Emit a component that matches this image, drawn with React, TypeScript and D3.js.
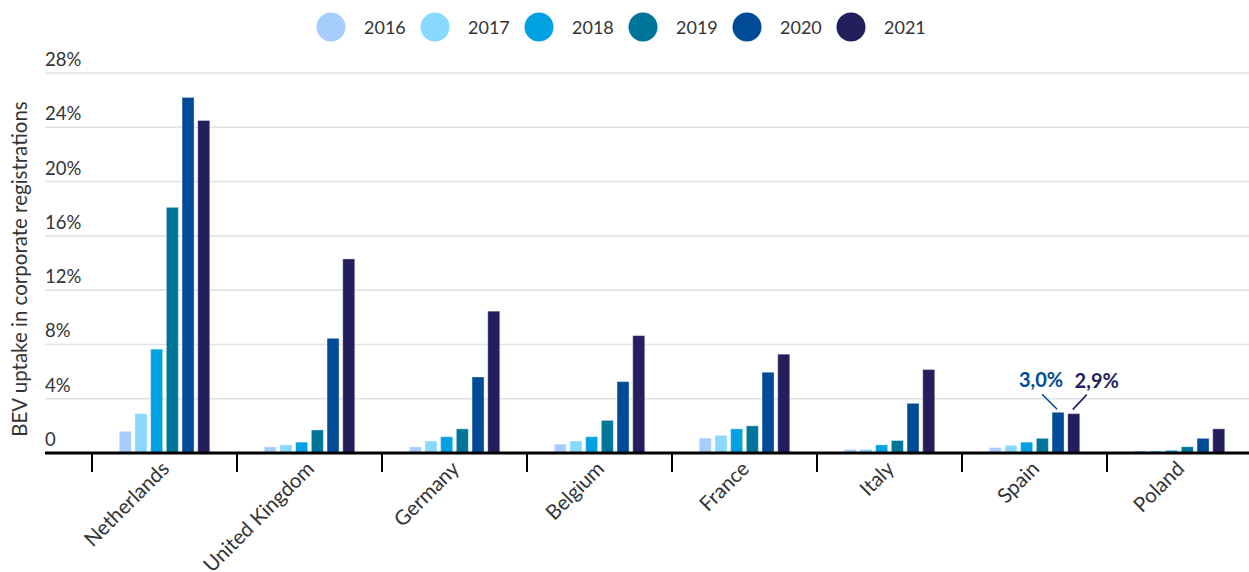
import React from "react";
import * as d3 from "d3";

const countries = ["Netherlands", "United Kingdom", "Germany", "Belgium", "France", "Italy", "Spain", "Poland"];
const years = ["2016", "2017", "2018", "2019", "2020", "2021"];
const colors = ["#a6cdfb", "#89d8fe", "#00a1e2", "#00759a", "#004b98", "#231f5c"];

const v2016 = [1.6, 0.45, 0.45, 0.65, 1.1, 0.27, 0.4, 0.17];
const v2017 = [2.9, 0.6, 0.88, 0.88, 1.3, 0.27, 0.57, 0.17];
const v2018 = [7.65, 0.8, 1.2, 1.2, 1.78, 0.6, 0.8, 0.2];
const v2019 = [18.1, 1.7, 1.78, 2.4, 2.0, 0.92, 1.08, 0.46];
const v2020 = [26.2, 8.45, 5.6, 5.26, 5.95, 3.66, 3.0, 1.08];
const v2021 = [24.5, 14.3, 10.45, 8.65, 7.28, 6.15, 2.9, 1.78];
const series = [v2016, v2017, v2018, v2019, v2020, v2021];

const yTicks = [0, 4, 8, 12, 16, 20, 24, 28];
const yTickLabels = ["0", "4%", "8%", "12%", "16%", "20%", "24%", "28%"];
const yTitle = "BEV uptake in corporate registrations";
const annotCountry = "Spain";
const annotLabels = ["3,0%", "2,9%"];

const FONT = "Lato, 'Source Sans Pro', 'Open Sans', sans-serif";
const TEXT = "#333333";

export default function App() {
  const W = 1249, H = 572;
  const x0 = d3.scaleBand<string>().domain(countries).range([92, 1252]).padding(0);
  const groupW = 90.5;
  const x1 = d3.scaleBand<string>().domain(years).range([0, groupW]).paddingInner(0.236).paddingOuter(0);
  const y = d3.scaleLinear().domain([0, 28]).range([453, 73]);
  const left = 45;

  const ci = countries.indexOf(annotCountry);
  const gStart = (c: string) => (x0(c) as number) + x0.bandwidth() / 2 - groupW / 2;
  const bx = (c: string, yr: string) => gStart(c) + (x1(yr) as number);

  const a20x = bx(annotCountry, "2020") + x1.bandwidth() / 2;
  const a20y = y(v2020[ci]);
  const a21x = bx(annotCountry, "2021") + x1.bandwidth() / 2;
  const a21y = y(v2021[ci]);

  return (
    <svg width={W} height={H} style={{ position: "absolute", left: 0, top: 0, background: "#fff" }} fontFamily={FONT}>
      {/* legend */}
      {years.map((yr, i) => (
        <g key={yr} transform={`translate(${331 + i * 104},27)`}>
          <circle r={14.5} fill={colors[i]} />
          <text x={33} y={7} fontSize={18} fill={TEXT}>{yr}</text>
        </g>
      ))}
      {/* gridlines */}
      {yTicks.map((t, i) => (
        <g key={t}>
          {t !== 0 && <line x1={left} x2={W} y1={y(t)} y2={y(t)} stroke="#e2e2e2" strokeWidth={1.6} />}
          <text x={left} y={y(t) - 7} fontSize={18.5} fill={TEXT}>{yTickLabels[i]}</text>
        </g>
      ))}
      {/* y title */}
      <text transform={`translate(27,${(y(0) + y(28)) / 2 + 6}) rotate(-90)`} textAnchor="middle" fontSize={20.5} fill={TEXT}>{yTitle}</text>
      {/* bars */}
      {countries.map((c, ci2) => (
        <g key={c}>
          {years.map((yr, si) => (
            <rect key={yr} x={bx(c, yr)} y={y(series[si][ci2])} width={x1.bandwidth()} height={y(0) - y(series[si][ci2])}
              fill={colors[si]} stroke="rgba(255,255,255,0.35)" strokeWidth={1} />
          ))}
        </g>
      ))}
      {/* x axis */}
      <line x1={left} x2={W} y1={453} y2={453} stroke="#000" strokeWidth={3} />
      {countries.map((c) => (
        <line key={c} x1={x0(c) as number} x2={x0(c) as number} y1={453} y2={472} stroke="#000" strokeWidth={2} />
      ))}
      {countries.map((c) => {
        const cx = (x0(c) as number) + x0.bandwidth() / 2 + 6;
        return (
          <text key={c} transform={`translate(${cx},${470}) rotate(-45)`} textAnchor="end" fontSize={20.5} fill={TEXT}>{c}</text>
        );
      })}
      {/* annotations */}
      <line x1={a20x - 16} y1={a20y - 18} x2={a20x - 1} y2={a20y - 3} stroke={colors[4]} strokeWidth={1.6} />
      <text x={a20x - 17} y={a20y - 25} textAnchor="middle" fontSize={20} fontWeight="bold" fill={colors[4]}>{annotLabels[0]}</text>
      <line x1={a21x + 13} y1={a21y - 19} x2={a21x - 1} y2={a21y - 4} stroke={colors[5]} strokeWidth={1.6} />
      <text x={a21x + 23} y={a21y - 26} textAnchor="middle" fontSize={20} fontWeight="bold" fill={colors[5]}>{annotLabels[1]}</text>
    </svg>
  );
}
